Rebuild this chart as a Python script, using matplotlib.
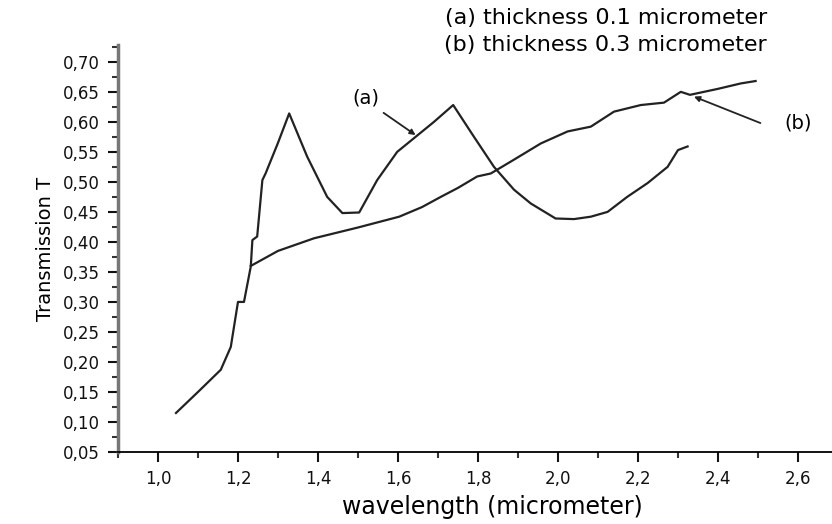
import matplotlib.pyplot as plt
from matplotlib.ticker import MultipleLocator, FuncFormatter

plt.rcParams['font.family'] = ['DejaVu Sans']

# curve (a): thickness 0.1 micrometer
wl_a = [1.045, 1.10, 1.157, 1.182, 1.20, 1.215, 1.232, 1.236, 1.248, 1.261, 1.269,
        1.30, 1.328, 1.373, 1.423, 1.461, 1.503, 1.548, 1.598, 1.644, 1.69, 1.738,
        1.79, 1.84, 1.89, 1.932, 1.994, 2.04, 2.082, 2.124, 2.173, 2.224, 2.274,
        2.30, 2.324]
t_a = [0.115, 0.150, 0.187, 0.225, 0.300, 0.300, 0.359, 0.403, 0.409, 0.503, 0.514,
       0.565, 0.614, 0.542, 0.475, 0.448, 0.449, 0.503, 0.550, 0.575, 0.600, 0.628,
       0.575, 0.525, 0.487, 0.464, 0.439, 0.438, 0.442, 0.450, 0.475, 0.498, 0.525,
       0.553, 0.559]

# curve (b): thickness 0.3 micrometer
wl_b = [1.232, 1.30, 1.39, 1.50, 1.603, 1.66, 1.707, 1.75, 1.798, 1.832, 1.89,
        1.957, 2.024, 2.082, 2.14, 2.207, 2.265, 2.307, 2.33, 2.40, 2.457, 2.494]
t_b = [0.360, 0.385, 0.406, 0.424, 0.442, 0.458, 0.475, 0.490, 0.509, 0.514, 0.537,
       0.564, 0.584, 0.592, 0.617, 0.628, 0.632, 0.650, 0.645, 0.655, 0.664, 0.668]

fig = plt.figure(figsize=(8.32, 5.24), dpi=100)
ax = fig.add_axes([0.1418, 0.1374, 0.8582, 0.7767])

ax.plot(wl_a, t_a, color='#222222', lw=1.6)
ax.plot(wl_b, t_b, color='#222222', lw=1.6)

ax.set_xlim(0.90, 2.685)
ax.set_ylim(0.05, 0.728)

ax.xaxis.set_major_locator(MultipleLocator(0.2))
ax.xaxis.set_minor_locator(MultipleLocator(0.1))
ax.yaxis.set_major_locator(MultipleLocator(0.05))
ax.yaxis.set_minor_locator(MultipleLocator(0.025))
ax.xaxis.set_major_formatter(FuncFormatter(lambda v, p: f'{v:.1f}'.replace('.', ',')))
ax.yaxis.set_major_formatter(FuncFormatter(lambda v, p: f'{v:.2f}'.replace('.', ',')))

ax.spines['top'].set_visible(False)
ax.spines['right'].set_visible(False)
ax.spines['left'].set_linewidth(2.5)
ax.spines['left'].set_color('#777777')
ax.spines['bottom'].set_linewidth(1.3)
ax.tick_params(which='major', direction='out', length=7, width=1.5, labelsize=12, colors='#111111')
ax.tick_params(which='minor', direction='out', length=4, width=1.5, colors='#333333')
ax.tick_params(axis='x', pad=6)
ax.tick_params(axis='y', pad=6)

ax.set_xlabel('wavelength (micrometer)', fontsize=17)
ax.xaxis.set_label_coords(0.524, -0.105)
ax.set_ylabel('Transmission T', fontsize=14, labelpad=6)

# curve labels with arrows
ax.text(1.519, 0.640, '(a)', fontsize=14, ha='center', va='center')
ax.annotate('', xy=(1.644, 0.578), xytext=(1.564, 0.615),
            arrowprops=dict(arrowstyle='-|>', color='#222222', lw=1.3,
                            mutation_scale=8, shrinkA=0, shrinkB=0))
ax.text(2.60, 0.598, '(b)', fontsize=14, ha='center', va='center')
ax.annotate('', xy=(2.34, 0.642), xytext=(2.506, 0.598),
            arrowprops=dict(arrowstyle='-|>', color='#222222', lw=1.3,
                            mutation_scale=8, shrinkA=0, shrinkB=0))

fig.text(0.728, 0.966, '(a) thickness 0.1 micrometer', fontsize=16, ha='center', va='center')
fig.text(0.728, 0.914, '(b) thickness 0.3 micrometer', fontsize=16, ha='center', va='center')

fig.savefig('out.png', dpi=100)
